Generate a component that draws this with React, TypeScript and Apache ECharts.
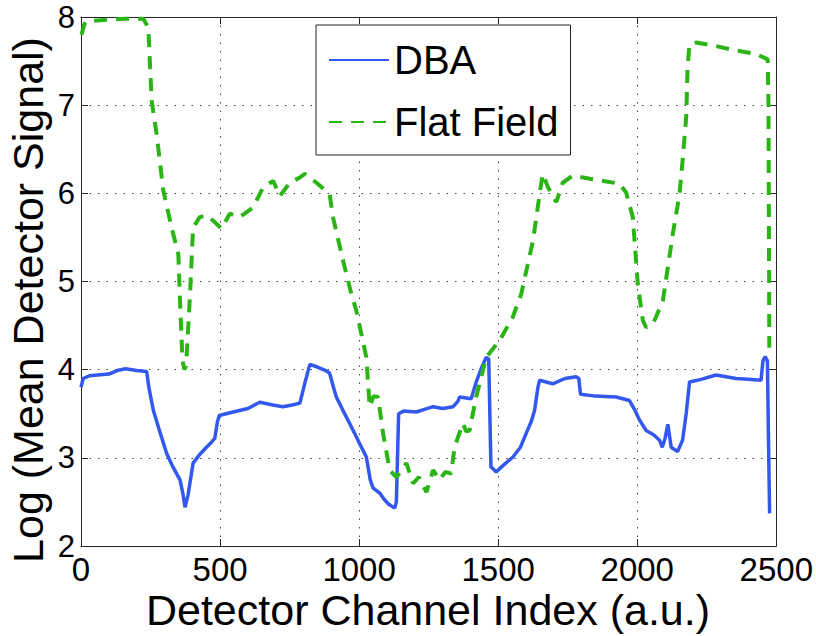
import React, { useEffect, useRef } from "react";
import * as echarts from "echarts";

const dbaX = [0, 8, 30, 60, 100, 130, 160, 200, 236, 244, 260, 285, 308, 330, 356, 366, 374, 385, 403, 430, 451, 470, 481, 490, 497, 547, 600, 643, 690, 726, 760, 787, 805, 823, 850, 880, 894, 906, 918, 940, 966, 985, 1002, 1026, 1040, 1050, 1074, 1090, 1104, 1128, 1134, 1142, 1160, 1206, 1235, 1266, 1300, 1338, 1355, 1361, 1403, 1420, 1440, 1457, 1466, 1474, 1493, 1520, 1553, 1580, 1601, 1620, 1631, 1643, 1649, 1696, 1740, 1780, 1790, 1796, 1850, 1924, 1972, 1990, 2008, 2032, 2060, 2080, 2090, 2100, 2110, 2116, 2122, 2145, 2163, 2176, 2188, 2230, 2283, 2320, 2355, 2400, 2445, 2452, 2460, 2468, 2472, 2476];
const dbaY = [3.80, 3.90, 3.93, 3.94, 3.95, 3.99, 4.01, 3.99, 3.98, 3.80, 3.54, 3.28, 3.05, 2.90, 2.75, 2.60, 2.44, 2.58, 2.94, 3.05, 3.12, 3.18, 3.22, 3.40, 3.48, 3.52, 3.56, 3.63, 3.60, 3.58, 3.60, 3.62, 3.85, 4.06, 4.03, 3.99, 3.96, 3.82, 3.69, 3.55, 3.39, 3.27, 3.16, 3.01, 2.75, 2.66, 2.60, 2.53, 2.48, 2.43, 2.50, 3.50, 3.53, 3.52, 3.55, 3.58, 3.56, 3.58, 3.64, 3.69, 3.67, 3.85, 4.02, 4.14, 4.12, 2.90, 2.84, 2.92, 3.01, 3.12, 3.28, 3.42, 3.54, 3.80, 3.88, 3.84, 3.90, 3.92, 3.90, 3.72, 3.70, 3.69, 3.65, 3.55, 3.43, 3.31, 3.26, 3.20, 3.12, 3.22, 3.38, 3.25, 3.12, 3.07, 3.20, 3.50, 3.86, 3.89, 3.94, 3.92, 3.90, 3.89, 3.88, 4.10, 4.15, 4.10, 3.20, 2.37];

const ffX = [2, 12, 20, 92, 160, 224, 242, 254, 272, 296, 326, 350, 356, 365, 372, 378, 392, 403, 427, 451, 475, 505, 535, 571, 619, 655, 691, 715, 751, 787, 805, 847, 894, 906, 942, 972, 990, 1026, 1038, 1052, 1068, 1086, 1110, 1134, 1150, 1170, 1194, 1215, 1242, 1266, 1289, 1310, 1331, 1343, 1373, 1385, 1397, 1421, 1457, 1505, 1553, 1583, 1625, 1649, 1660, 1679, 1709, 1732, 1768, 1840, 1936, 1960, 1984, 2002, 2020, 2032, 2056, 2068, 2092, 2128, 2152, 2163, 2176, 2181, 2188, 2211, 2283, 2355, 2427, 2469, 2472, 2475];
const ffY = [7.80, 7.92, 7.95, 7.97, 7.98, 7.98, 7.88, 7.05, 6.67, 6.03, 5.61, 5.31, 4.78, 4.10, 4.00, 4.05, 4.85, 5.61, 5.73, 5.75, 5.69, 5.60, 5.77, 5.73, 5.84, 6.07, 6.14, 5.97, 6.12, 6.18, 6.22, 6.12, 5.99, 5.73, 5.24, 4.86, 4.67, 4.14, 3.58, 3.70, 3.69, 3.28, 2.86, 2.78, 2.85, 2.94, 2.71, 2.78, 2.61, 2.86, 2.75, 2.84, 2.82, 3.12, 3.39, 3.30, 3.31, 3.69, 4.14, 4.33, 4.60, 4.86, 5.46, 5.99, 6.22, 6.07, 5.90, 6.12, 6.20, 6.16, 6.11, 6.01, 5.73, 4.97, 4.56, 4.48, 4.52, 4.60, 4.78, 5.54, 5.99, 6.37, 6.86, 7.43, 7.69, 7.71, 7.67, 7.62, 7.58, 7.52, 7.00, 4.25];

const seriesNames = ["DBA", "Flat Field"];
const xTitle = "Detector Channel Index (a.u.)";
const yTitle = "Log (Mean Detector Signal)";
const xMin = 0, xMax = 2500, xStep = 500;
const yMin = 2, yMax = 8, yStep = 1;

const FONT = "'Liberation Sans', Arial, Helvetica, sans-serif";
const AXIS_COLOR = "#262626";

export default function App() {
  const ref = useRef<HTMLDivElement>(null);
  useEffect(() => {
    const chart = echarts.init(ref.current as HTMLDivElement, null, { renderer: "svg" });
    const pair = (xs: number[], ys: number[]) => xs.map((x, i) => [x, ys[i]]);
    const baseX = {
      type: "value",
      min: xMin,
      max: xMax,
      interval: xStep,
      axisLine: { show: true, onZero: false, lineStyle: { color: AXIS_COLOR, width: 1 } },
      axisTick: { show: true, inside: true, length: 7, lineStyle: { color: AXIS_COLOR } },
    };
    const baseY = {
      type: "value",
      min: yMin,
      max: yMax,
      interval: yStep,
      axisLine: { show: true, onZero: false, lineStyle: { color: AXIS_COLOR, width: 1 } },
      axisTick: { show: true, inside: true, length: 7, lineStyle: { color: AXIS_COLOR } },
    };
    const dotted = { show: true, lineStyle: { color: "#444", width: 1, type: [1.5, 7] } };
    chart.setOption({
      animation: false,
      textStyle: { fontFamily: FONT },
      grid: { left: 81, right: 39, top: 16, bottom: 90, containLabel: false },
      xAxis: [
        {
          ...baseX,
          position: "bottom",
          axisLabel: { show: true, fontSize: 33, lineHeight: 30, color: "#000", margin: 8, fontFamily: FONT, formatter: (v: number) => String(v) },
          splitLine: dotted,
        },
        {
          ...baseX,
          position: "top",
          axisLabel: { show: false },
          splitLine: { show: false },
        },
      ],
      yAxis: [
        {
          ...baseY,
          position: "left",
          axisLabel: { show: true, fontSize: 31, lineHeight: 28, padding: [6, 0, 0, 0], color: "#000", margin: 6, fontFamily: FONT, formatter: (v: number) => String(v) },
          splitLine: dotted,
        },
        {
          ...baseY,
          position: "right",
          axisLabel: { show: false },
          splitLine: { show: false },
        },
      ],
      legend: {
        orient: "vertical",
        left: 316,
        top: 25,
        data: seriesNames,
        backgroundColor: "#fff",
        borderColor: "#222",
        borderWidth: 1,
        borderRadius: 0,
        padding: [15, 12, 13, 12],
        itemGap: 22,
        itemWidth: 60,
        itemHeight: 20,
        itemStyle: { opacity: 0 },
        textStyle: { fontSize: 40, lineHeight: 40, color: "#000", fontFamily: FONT },
      },
      series: [
        {
          name: seriesNames[0],
          type: "line",
          data: pair(dbaX, dbaY),
          showSymbol: false,
          symbol: "none",
          lineStyle: { color: "#3358ee", width: 3.5 },
          itemStyle: { color: "#3358ee" },
          z: 2,
        },
        {
          name: seriesNames[1],
          type: "line",
          data: pair(ffX, ffY),
          showSymbol: false,
          symbol: "none",
          lineStyle: { color: "#2ab515", width: 4, type: [13, 9] },
          itemStyle: { color: "#2ab515" },
          z: 3,
        },
      ],
      graphic: [
        {
          type: "text",
          x: 428,
          y: 610,
          style: { text: xTitle, font: `43px ${FONT}`, fill: "#000", textAlign: "center", textVerticalAlign: "middle" },
        },
        {
          type: "text",
          x: 28,
          y: 300,
          rotation: Math.PI / 2,
          style: { text: yTitle, font: `43px ${FONT}`, fill: "#000", textAlign: "center", textVerticalAlign: "middle" },
        },
      ],
    });
    return () => chart.dispose();
  }, []);
  return <div ref={ref} style={{ position: "fixed", left: 0, top: 0, width: 816, height: 636, background: "#fff" }} />;
}
